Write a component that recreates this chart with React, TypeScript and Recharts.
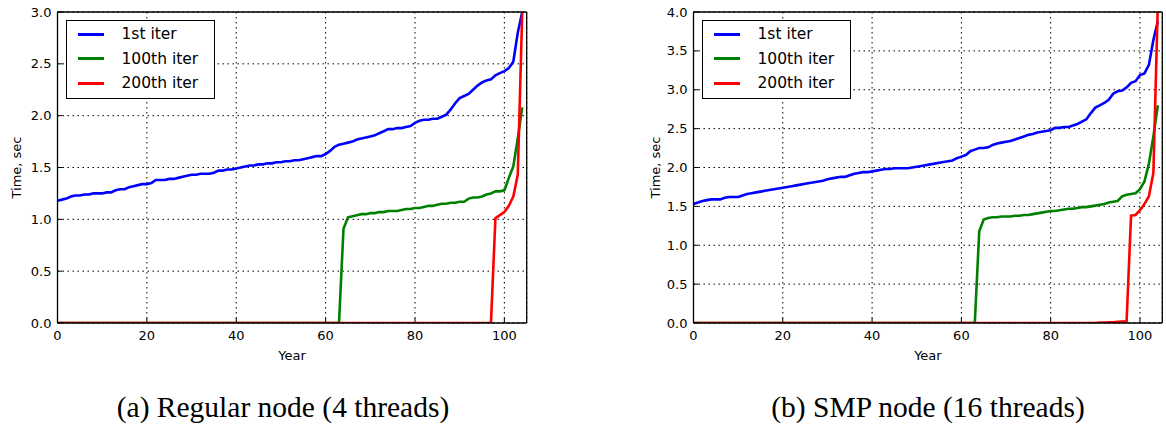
import React from 'react';
import { LineChart, Line, XAxis, YAxis, CartesianGrid, Legend, Label } from 'recharts';

// Year index (categories)
const years = [
  0, 1, 2, 3, 4, 5, 6, 7, 8, 9, 10, 11, 12, 13, 14, 15, 16, 17, 18, 19,
  20, 21, 22, 23, 24, 25, 26, 27, 28, 29, 30, 31, 32, 33, 34, 35, 36, 37, 38, 39,
  40, 41, 42, 43, 44, 45, 46, 47, 48, 49, 50, 51, 52, 53, 54, 55, 56, 57, 58, 59,
  60, 61, 62, 63, 64, 65, 66, 67, 68, 69, 70, 71, 72, 73, 74, 75, 76, 77, 78, 79,
  80, 81, 82, 83, 84, 85, 86, 87, 88, 89, 90, 91, 92, 93, 94, 95, 96, 97, 98, 99,
  100, 101, 102, 103, 104,
];

const xTicks = [0, 20, 40, 60, 80, 100];
const regularYTicks = [0, 0.5, 1, 1.5, 2, 2.5, 3];
const smpYTicks = [0, 0.5, 1, 1.5, 2, 2.5, 3, 3.5, 4];

const seriesNames = ['1st iter', '100th iter', '200th iter'];
const seriesColors = ['#0000ff', '#008000', '#ff0000'];

// (a) Regular node (4 threads)
const regularFirst = [
  1.18, 1.19, 1.20, 1.22, 1.23, 1.23, 1.24, 1.24, 1.25, 1.25,
  1.25, 1.26, 1.26, 1.28, 1.29, 1.29, 1.31, 1.32, 1.33, 1.34,
  1.34, 1.35, 1.38, 1.38, 1.38, 1.39, 1.39, 1.40, 1.41, 1.42,
  1.43, 1.43, 1.44, 1.44, 1.44, 1.45, 1.47, 1.47, 1.48, 1.48,
  1.49, 1.50, 1.51, 1.52, 1.52, 1.53, 1.53, 1.54, 1.54, 1.55,
  1.55, 1.56, 1.56, 1.57, 1.57, 1.58, 1.59, 1.60, 1.61, 1.61,
  1.63, 1.66, 1.70, 1.72, 1.73, 1.74, 1.75, 1.77, 1.78, 1.79,
  1.80, 1.81, 1.83, 1.85, 1.87, 1.87, 1.88, 1.88, 1.89, 1.90,
  1.93, 1.95, 1.96, 1.96, 1.97, 1.97, 1.99, 2.01, 2.06, 2.12,
  2.17, 2.19, 2.21, 2.25, 2.29, 2.32, 2.34, 2.35, 2.39, 2.41,
  2.43, 2.46, 2.52, 2.80, 3.00,
];
const regularHundredth = [
  0, 0, 0, 0, 0, 0, 0, 0, 0, 0,
  0, 0, 0, 0, 0, 0, 0, 0, 0, 0,
  0, 0, 0, 0, 0, 0, 0, 0, 0, 0,
  0, 0, 0, 0, 0, 0, 0, 0, 0, 0,
  0, 0, 0, 0, 0, 0, 0, 0, 0, 0,
  0, 0, 0, 0, 0, 0, 0, 0, 0, 0,
  0, 0, 0, 0, 0.91, 1.02, 1.03, 1.04, 1.05, 1.05,
  1.06, 1.06, 1.07, 1.07, 1.08, 1.08, 1.08, 1.09, 1.10, 1.10,
  1.11, 1.11, 1.12, 1.13, 1.13, 1.14, 1.15, 1.15, 1.16, 1.16,
  1.17, 1.17, 1.20, 1.21, 1.21, 1.22, 1.24, 1.25, 1.27, 1.27,
  1.28, 1.40, 1.51, 1.78, 2.08,
];
const regularTwoHundredth = [
  0, 0, 0, 0, 0, 0, 0, 0, 0, 0,
  0, 0, 0, 0, 0, 0, 0, 0, 0, 0,
  0, 0, 0, 0, 0, 0, 0, 0, 0, 0,
  0, 0, 0, 0, 0, 0, 0, 0, 0, 0,
  0, 0, 0, 0, 0, 0, 0, 0, 0, 0,
  0, 0, 0, 0, 0, 0, 0, 0, 0, 0,
  0, 0, 0, 0, 0, 0, 0, 0, 0, 0,
  0, 0, 0, 0, 0, 0, 0, 0, 0, 0,
  0, 0, 0, 0, 0, 0, 0, 0, 0, 0,
  0, 0, 0, 0, 0, 0, 0, 0, 1.01, 1.04,
  1.07, 1.13, 1.22, 1.43, 3.00,
];

// (b) SMP node (16 threads)
const smpFirst = [
  1.53, 1.55, 1.57, 1.58, 1.59, 1.59, 1.59, 1.61, 1.62, 1.62,
  1.62, 1.64, 1.66, 1.67, 1.68, 1.69, 1.70, 1.71, 1.72, 1.73,
  1.74, 1.75, 1.76, 1.77, 1.78, 1.79, 1.80, 1.81, 1.82, 1.83,
  1.85, 1.86, 1.87, 1.88, 1.88, 1.90, 1.92, 1.93, 1.94, 1.94,
  1.95, 1.96, 1.97, 1.98, 1.98, 1.99, 1.99, 1.99, 1.99, 2.00,
  2.01, 2.02, 2.03, 2.04, 2.05, 2.06, 2.07, 2.08, 2.09, 2.12,
  2.14, 2.16, 2.21, 2.23, 2.25, 2.25, 2.26, 2.29, 2.31, 2.32,
  2.33, 2.34, 2.36, 2.38, 2.40, 2.42, 2.43, 2.45, 2.46, 2.47,
  2.48, 2.51, 2.51, 2.52, 2.52, 2.54, 2.56, 2.59, 2.62, 2.70,
  2.77, 2.80, 2.83, 2.87, 2.95, 2.98, 2.99, 3.03, 3.09, 3.11,
  3.19, 3.21, 3.32, 3.64, 3.88,
];
const smpHundredth = [
  0, 0, 0, 0, 0, 0, 0, 0, 0, 0,
  0, 0, 0, 0, 0, 0, 0, 0, 0, 0,
  0, 0, 0, 0, 0, 0, 0, 0, 0, 0,
  0, 0, 0, 0, 0, 0, 0, 0, 0, 0,
  0, 0, 0, 0, 0, 0, 0, 0, 0, 0,
  0, 0, 0, 0, 0, 0, 0, 0, 0, 0,
  0, 0, 0, 0, 1.18, 1.33, 1.35, 1.36, 1.36, 1.37,
  1.37, 1.37, 1.38, 1.38, 1.39, 1.39, 1.40, 1.41, 1.42, 1.43,
  1.44, 1.44, 1.45, 1.46, 1.47, 1.47, 1.48, 1.49, 1.49, 1.50,
  1.51, 1.52, 1.53, 1.55, 1.56, 1.57, 1.63, 1.65, 1.66, 1.67,
  1.72, 1.82, 2.05, 2.40, 2.80,
];
const smpTwoHundredth = [
  0, 0, 0, 0, 0, 0, 0, 0, 0, 0,
  0, 0, 0, 0, 0, 0, 0, 0, 0, 0,
  0, 0, 0, 0, 0, 0, 0, 0, 0, 0,
  0, 0, 0, 0, 0, 0, 0, 0, 0, 0,
  0, 0, 0, 0, 0, 0, 0, 0, 0, 0,
  0, 0, 0, 0, 0, 0, 0, 0, 0, 0,
  0, 0, 0, 0, 0, 0, 0, 0, 0, 0,
  0, 0, 0, 0, 0, 0, 0, 0, 0, 0,
  0, 0, 0, 0, 0, 0, 0, 0, 0, 0,
  0, 0.005, 0.005, 0.01, 0.01, 0.015, 0.02, 0.02, 1.38, 1.39,
  1.45, 1.53, 1.63, 1.93, 4.10,
];

const buildRows = (a: number[], b: number[], c: number[]) =>
  years.map((year, i) => ({ year, s1: a[i], s2: b[i], s3: c[i] }));

const regularRows = buildRows(regularFirst, regularHundredth, regularTwoHundredth);
const smpRows = buildRows(smpFirst, smpHundredth, smpTwoHundredth);

const SANS = "'DejaVu Sans', sans-serif";
const tickStyle = { fontSize: 13, fontFamily: SANS, fill: '#000' };

const LegendBox = (props: any) => {
  const payload = [...(props.payload || [])].sort(
    (a: any, b: any) => seriesNames.indexOf(a.value) - seriesNames.indexOf(b.value)
  );
  return (
    <div
      style={{
        width: 149,
        height: 79,
        boxSizing: 'border-box',
        border: '1.3px solid #000',
        background: '#fff',
        position: 'relative',
        fontFamily: SANS,
        fontSize: 15.5,
        color: '#000',
      }}
    >
      {payload.map((p: any, i: number) => (
        <div
          key={p.value}
          style={{ position: 'absolute', left: 0, top: 1 + i * 24.6, height: 24, width: '100%' }}
        >
          <div
            style={{
              position: 'absolute',
              left: 10.5,
              top: 10.5,
              width: 26,
              height: 3,
              background: p.color,
            }}
          />
          <div style={{ position: 'absolute', left: 54.5, top: 2, lineHeight: '20px', whiteSpace: 'nowrap' }}>
            {p.value}
          </div>
        </div>
      ))}
    </div>
  );
};

const YLabel = (dx: number) => (props: any) => {
  const vb = props.viewBox || {};
  const cx = vb.x + dx;
  const cy = vb.y + vb.height / 2;
  return (
    <text
      x={cx}
      y={cy}
      transform={`rotate(-90 ${cx} ${cy})`}
      textAnchor="middle"
      dominantBaseline="central"
      fontSize={13}
      fontFamily={SANS}
      fill="#000"
    >
      Time, sec
    </text>
  );
};

type PanelProps = {
  rows: any[];
  yMax: number;
  yTicks: number[];
  left: number;
  width: number;
  rightMargin: number;
  labelDx: number;
  caption: string;
  captionCenter: number;
};

const Panel = ({ rows, yMax, yTicks, left, width, rightMargin, labelDx, caption, captionCenter }: PanelProps) => (
  <>
    <div style={{ position: 'absolute', left, top: 0 }}>
      <LineChart
        width={width}
        height={380}
        data={rows}
        margin={{ top: 11, right: rightMargin, left: 0, bottom: 17 }}
      >
        <CartesianGrid stroke="#000" strokeWidth={1} strokeDasharray="1.5 3.5" />
        <XAxis
          dataKey="year"
          type="number"
          domain={[0, 105]}
          ticks={xTicks}
          allowDataOverflow
          height={40}
          tickSize={-5}
          tickMargin={13}
          tick={tickStyle}
          stroke="#000"
          axisLine={{ stroke: '#000', strokeWidth: 1.3 }}
          tickLine={{ stroke: '#000', strokeWidth: 1 }}
        >
          <Label value="Year" position="insideBottom" offset={3} fontSize={13} fontFamily={SANS} fill="#000" />
        </XAxis>
        <XAxis
          xAxisId="top"
          orientation="top"
          dataKey="year"
          type="number"
          domain={[0, 105]}
          ticks={xTicks}
          allowDataOverflow
          height={1}
          tickSize={-5}
          tick={false}
          axisLine={{ stroke: '#000', strokeWidth: 1.3 }}
          tickLine={{ stroke: '#000', strokeWidth: 1 }}
        />
        <YAxis
          type="number"
          domain={[0, yMax]}
          ticks={yTicks}
          allowDataOverflow
          width={57.5}
          tickSize={-5}
          tickMargin={11}
          tick={tickStyle}
          tickFormatter={(v: number) => v.toFixed(1)}
          axisLine={{ stroke: '#000', strokeWidth: 1.3 }}
          tickLine={{ stroke: '#000', strokeWidth: 1 }}
          label={{ content: YLabel(labelDx) }}
        />
        <YAxis
          yAxisId="right"
          orientation="right"
          type="number"
          domain={[0, yMax]}
          ticks={yTicks}
          allowDataOverflow
          width={1}
          tickSize={-5}
          tick={false}
          axisLine={{ stroke: '#000', strokeWidth: 1.3 }}
          tickLine={{ stroke: '#000', strokeWidth: 1 }}
        />
        <Legend
          layout="vertical"
          align="center"
          verticalAlign="middle"
          wrapperStyle={{ left: 66, top: 20, width: 149, height: 79 }}
          content={<LegendBox />}
        />
        {['s1', 's2', 's3'].map((k, i) => (
          <Line
            key={k}
            dataKey={k}
            name={seriesNames[i]}
            type="linear"
            stroke={seriesColors[i]}
            strokeWidth={2.6}
            dot={false}
            activeDot={false}
            isAnimationActive={false}
          />
        ))}
      </LineChart>
    </div>
    <div
      style={{
        position: 'absolute',
        left: captionCenter - 250,
        width: 500,
        top: 391,
        textAlign: 'center',
        fontFamily: "'Liberation Serif', 'DejaVu Serif', serif",
        fontSize: 29.5,
        lineHeight: '32px',
        color: '#000',
        whiteSpace: 'nowrap',
      }}
    >
      {caption}
    </div>
  </>
);

export default function App() {
  return (
    <div style={{ position: 'absolute', left: 0, top: 0, width: 1166, height: 424, background: '#fff', overflow: 'hidden' }}>
      <Panel
        rows={regularRows}
        yMax={3}
        yTicks={regularYTicks}
        left={0}
        width={560}
        rightMargin={32.3}
        labelDx={16}
        caption="(a) Regular node (4 threads)"
        captionCenter={283}
      />
      <Panel
        rows={smpRows}
        yMax={4}
        yTicks={smpYTicks}
        left={636}
        width={530}
        rightMargin={2.7}
        labelDx={19}
        caption="(b) SMP node (16 threads)"
        captionCenter={928}
      />
    </div>
  );
}
